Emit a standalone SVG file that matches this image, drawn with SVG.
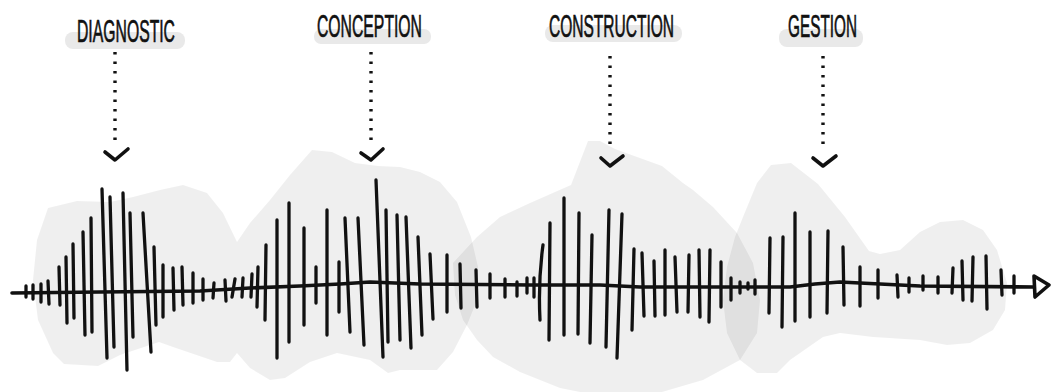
<svg xmlns="http://www.w3.org/2000/svg" width="1052" height="392" viewBox="0 0 1052 392">
<style>
.blob{fill:#000;fill-opacity:0.062;stroke:none}
.hl{fill:#e9e9e9}
.lbl{font-family:"Liberation Sans","DejaVu Sans",sans-serif;font-size:31px;fill:#111;stroke:#111;stroke-width:0.7;text-anchor:start}
.dots{fill:none;stroke:#111;stroke-width:3.4;stroke-dasharray:2.5 7}
.chev{fill:none;stroke:#111;stroke-width:3.6;stroke-linecap:round;stroke-linejoin:round}
.tick{fill:none;stroke:#111;stroke-width:3.3;stroke-linecap:round}
.axis{fill:none;stroke:#111;stroke-width:3.6;stroke-linecap:round;stroke-linejoin:round}
</style>
<rect width="1052" height="392" fill="#fff"/>
<g id="blobs">
<path class="blob" d="M48,208 L77,201 L110,202 L133,197 L160,190 L183,185 L207,193 L223,213 L237,242 L250,223 L270,200 L290,175 L312,150 L332,152 L355,163 L378,166 L400,167 L420,172 L440,182 L457,202 L471,237 L478,267 L477,300 L467,325 L453,352 L437,370 L400,370 L388,373 L370,360 L337,353 L310,362 L285,378 L270,380 L250,368 L237,353 L230,362 L217,362 L173,347 L159,342 L120,355 L98,366 L64,364 L53,353 L38,320 L33,280 L37,240 Z"/>
<path class="blob" d="M453,263 L477,237 L500,217 L530,203 L571,185 L588,141 L600,141 L615,149 L662,166 L683,183 L693,190 L713,207 L737,233 L753,263 L760,300 L757,333 L740,360 L703,380 L662,392 L600,396 L560,388 L520,372 L493,357 L477,340 L463,320 L455,295 Z"/>
<path class="blob" d="M757,183 L771,165 L791,163 L818,184 L845,217 L869,251 L880,254 L900,250 L920,232 L940,222 L963,220 L983,230 L997,250 L1007,283 L1005,310 L993,330 L970,343 L947,345 L920,340 L873,337 L840,333 L823,337 L790,360 L777,373 L757,373 L740,360 L727,333 L723,300 L727,267 L735,237 L743,217 Z"/>
</g>
<g id="waveform">
<path class="axis" d="M12,293 L100,292 L200,291 L250,288 L300,286 L340,284 L370,282 L420,284 L530,285 L600,285 L640,287 L790,287 L815,284 L840,282 L880,284 L920,286 L1034,287"/>
<path class="axis" d="M1034,276 L1049,285 L1035,297 Z"/>
<path class="tick" d="M26,286L26,297M33,285L33,299M41,284L41,302M48,281L49,304M59,267L60,305M66,257L67,323M73,244L74,318M83,232L85,335M91,218L92,332M102,189L107,358M110,197L114,347M123,193L127,370M130,213L133,337M143,213L151,352M154,247L156,325M163,265L163,317M173,268L174,310M182,267L183,305M193,273L193,303M203,279L203,300M214,283L213,298M225,280L226,301M235,279L232,297M243,278L242,297M252,274L251,297M258,267L257,307M266,245L265,320"/>
<path class="tick" d="M277,220L277,358M289,203L289,342M304,228L304,325M316,267L316,303M327,210L327,335M339,262L339,312M345,218L350,332M358,218L364,345M376,180L383,357M386,210L388,342M397,215L400,340M406,217L411,348M418,237L422,335M430,254L433,319M447,255L447,312M460,264L461,308M476,270L477,307M490,274L490,298M505,279L505,297M517,282L517,296M527,278L527,293"/>
<path class="tick" d="M534,278L534,297M543,245Q538,282 540,320M550,223L549,340M564,198L564,335M579,213L578,334M592,235L590,343M609,210L606,347M622,214L617,358M634,249L632,330M642,253L644,316M654,261L655,316M665,250L665,315M675,257L677,312M689,255L688,312M699,250L700,317M710,250L709,322M721,262L721,307M731,278L731,300M740,282L740,293M748,283L748,289M755,280L755,294"/>
<path class="tick" d="M770,238L769,313M783,237L782,327M795,213L795,321M810,232L810,317M828,231L827,313M843,247L844,305M860,267L860,306M878,270L878,298M897,275L898,297M909,278L909,292M923,276L923,290M938,277L938,293M953,268L952,293M962,261L963,300M973,257L972,301M986,256L987,309M1001,270L1002,295M1014,276L1014,293"/>
</g>
<g id="node-diagnostic">
<rect class="hl" x="65" y="32" width="120" height="17" rx="8"/>
<text class="lbl" x="77" y="42" textLength="98" lengthAdjust="spacingAndGlyphs">DIAGNOSTIC</text>
</g>
<g id="node-conception">
<rect class="hl" x="314" y="29" width="117" height="15" rx="7"/>
<text class="lbl" x="317" y="37" textLength="105" lengthAdjust="spacingAndGlyphs">CONCEPTION</text>
</g>
<g id="node-construction">
<rect class="hl" x="545" y="25" width="137" height="17" rx="8"/>
<text class="lbl" x="549" y="37" textLength="125" lengthAdjust="spacingAndGlyphs">CONSTRUCTION</text>
</g>
<g id="node-gestion">
<rect class="hl" x="779" y="29" width="84" height="18" rx="8"/>
<text class="lbl" x="788" y="37" textLength="69" lengthAdjust="spacingAndGlyphs">GESTION</text>
</g>
<g id="connectors">
<path class="dots" d="M115,52 L115,144"/>
<polyline class="chev" points="105,152 115,160 128,149"/>
<path class="dots" d="M371,52 L371,144"/>
<polyline class="chev" points="361,153 371,160 383,149"/>
<path class="dots" d="M610,56 L610,149"/>
<polyline class="chev" points="601,158 610,166 623,156"/>
<path class="dots" d="M823,56 L823,149"/>
<polyline class="chev" points="813,158 823,166 836,156"/>
</g>
</svg>
